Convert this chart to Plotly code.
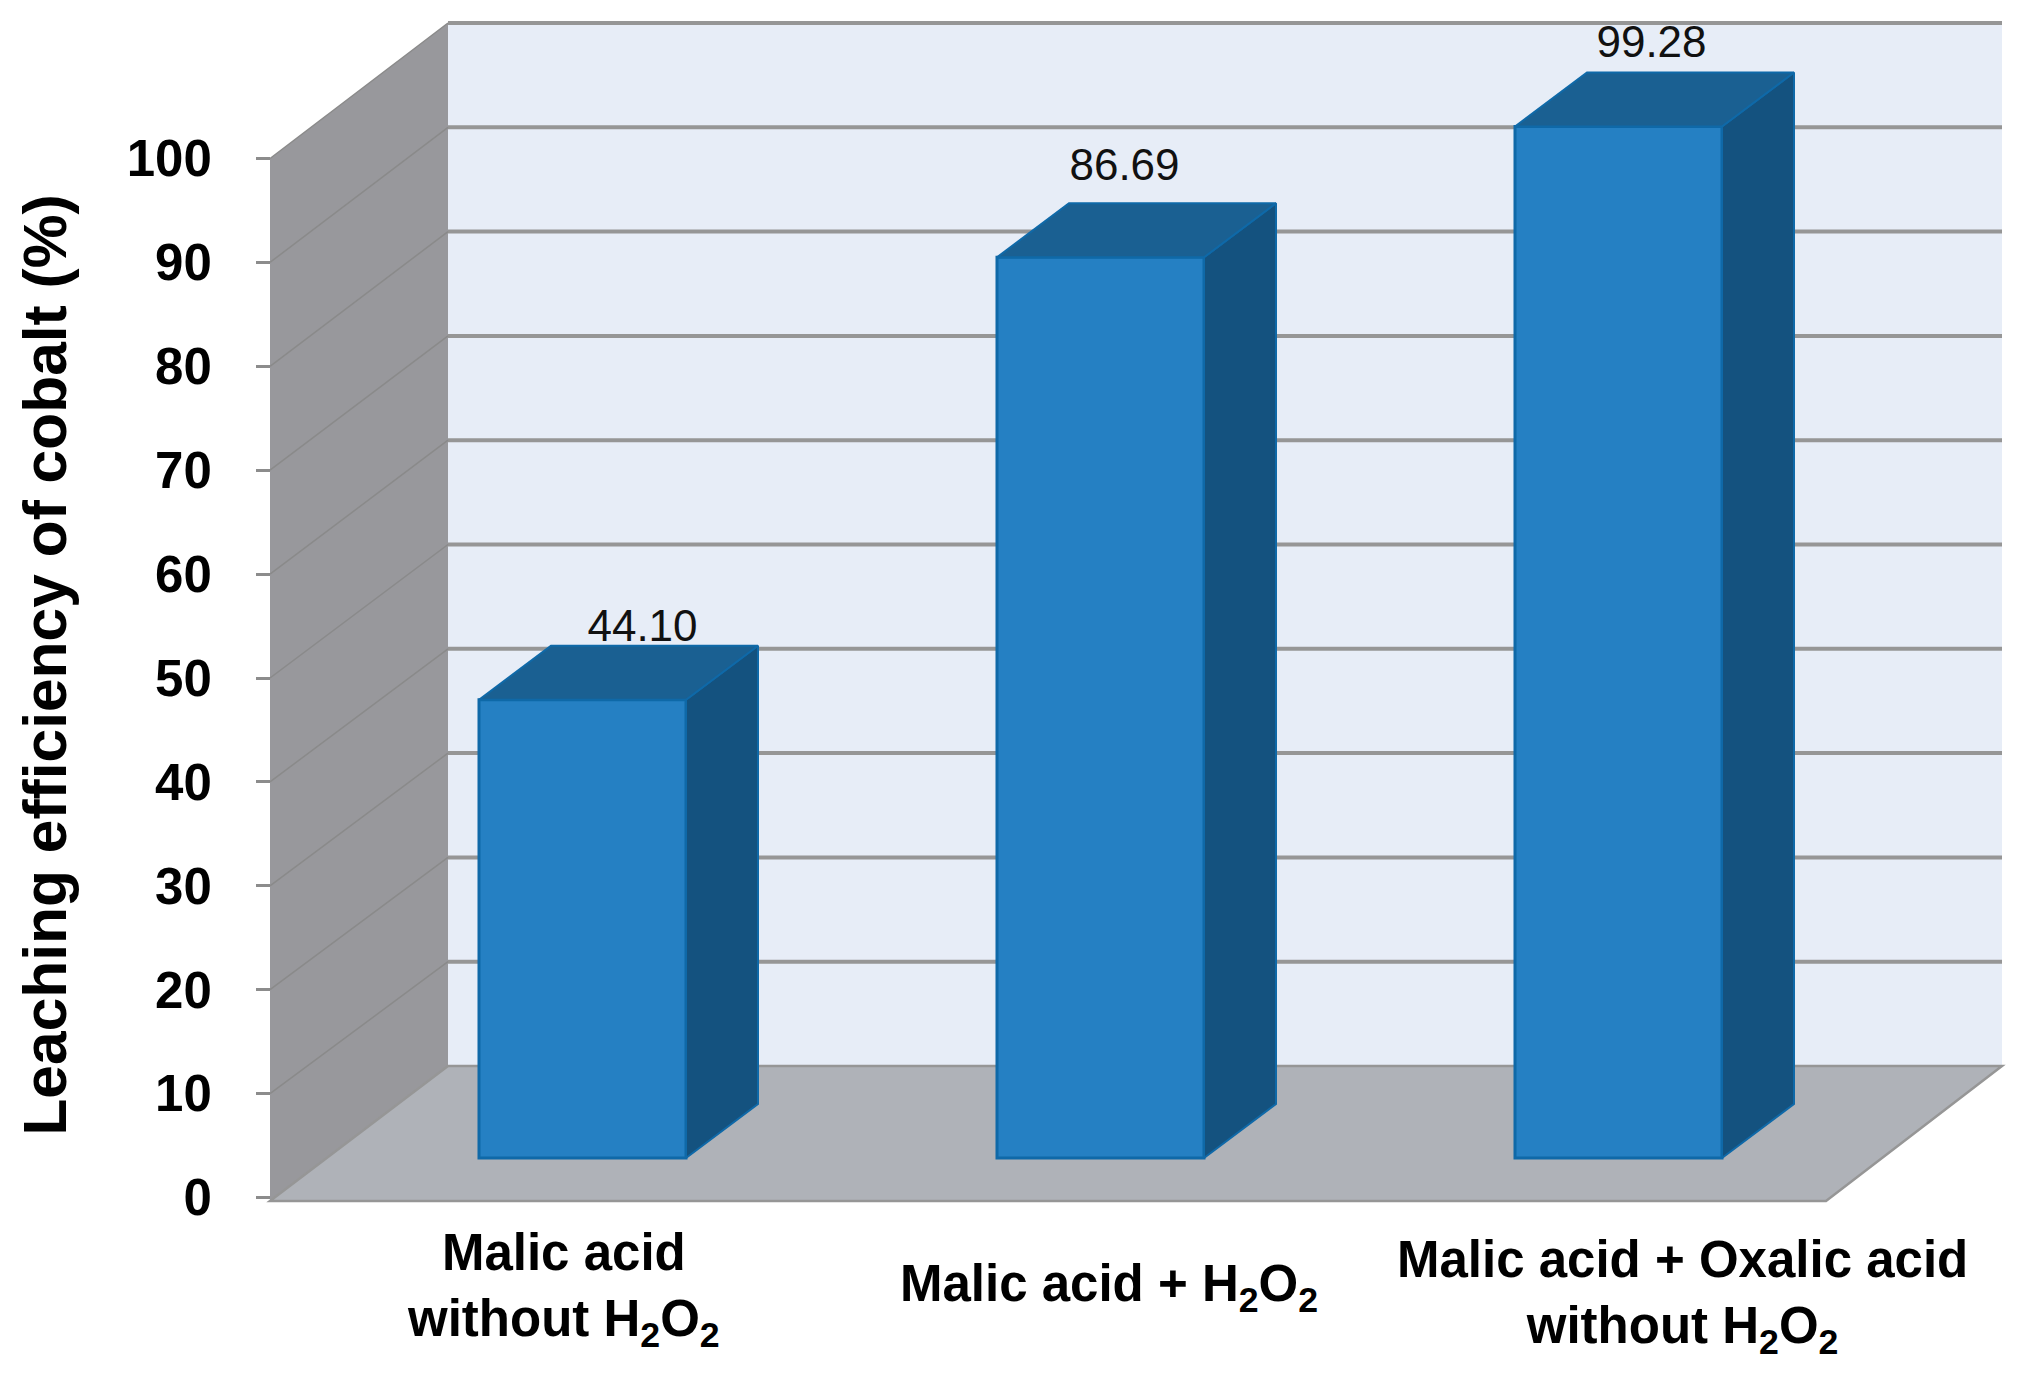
import plotly.graph_objects as go

# --- data ---
categories = ["Malic acid<br>without H<sub>2</sub>O<sub>2</sub>",
              "Malic acid + H<sub>2</sub>O<sub>2</sub>",
              "Malic acid + Oxalic acid<br>without H<sub>2</sub>O<sub>2</sub>"]
leaching_values = [44.10, 86.69, 99.28]
y_ticks = [0, 10, 20, 30, 40, 50, 60, 70, 80, 90, 100]
y_title = "Leaching efficiency of cobalt (%)"

# --- page / pseudo-3D geometry (page px; PAGE_INSET is the browser's body margin) ---
W, H = 2027, 1382
PAGE_INSET = 8
PX_PER_CAT = 518.0     # px per category on x
PX_PER_UNIT = 10.39    # px per % on y, front plane
X0_PX = 582.5          # page px of the first bar centre
Y0_PX = 1197.5         # page px of value 0 on the front plane
AXIS_BOTTOM_PX = 1322.0

def xpx(p):
    return (p - X0_PX) / PX_PER_CAT

def ypx(p):
    return (Y0_PX - p) / PX_PER_UNIT

BAR_WIDTH = 207 / PX_PER_CAT
BAR_BASE = 39.5 / PX_PER_UNIT
BAR_DX = 72 / PX_PER_CAT
BAR_DY = 54 / PX_PER_UNIT
WALL_DX = 178 / PX_PER_CAT
WALL_DY = 131.5 / PX_PER_UNIT
BACK_SCALE = 10.43 / PX_PER_UNIT   # back wall is drawn very slightly taller than the front plane
FRONT_L = xpx(270)
FRONT_R = xpx(1826)
BACK_L = FRONT_L + WALL_DX
BACK_R = xpx(2002)
FLOOR_FRONT = -3.5 / PX_PER_UNIT
BACK_TOP = WALL_DY + 100 * BACK_SCALE

C_FRONT, C_SIDE, C_TOP, C_EDGE = "#2580c3", "#14527f", "#1a6092", "#0f69a8"
C_WALL, C_FLOOR, C_BACK, C_GRID = "#98989c", "#afb2b8", "#e7edf7", "#969696"
FONT = "Liberation Sans, Arial, sans-serif"

# placement of the hand-set labels
value_label_dx = [60, 24, 33]          # px right of bar centre
value_label_gap = [-6, 12, 4]          # px above the bar's top-back edge
category_label_px = [(563, 1289), (1109, 1287), (1682, 1296)]

fig = go.Figure()

# bars: front face
fig.add_trace(go.Bar(
    x=list(range(len(leaching_values))), y=leaching_values, base=BAR_BASE, width=BAR_WIDTH,
    marker=dict(color=C_FRONT, line=dict(color=C_EDGE, width=3)),
    hoverinfo="skip", showlegend=False))

# bars: side and top faces
for i, v in enumerate(leaching_values):
    l, r = i - BAR_WIDTH / 2, i + BAR_WIDTH / 2
    top, bot = BAR_BASE + v, BAR_BASE
    fig.add_trace(go.Scatter(
        x=[r, r + BAR_DX, r + BAR_DX, r, r], y=[top, top + BAR_DY, bot + BAR_DY, bot, top],
        mode="lines", fill="toself", fillcolor=C_SIDE, line=dict(color=C_EDGE, width=2),
        hoverinfo="skip", showlegend=False))
    fig.add_trace(go.Scatter(
        x=[l, l + BAR_DX, r + BAR_DX, r, l], y=[top, top + BAR_DY, top + BAR_DY, top, top],
        mode="lines", fill="toself", fillcolor=C_TOP, line=dict(color=C_EDGE, width=2),
        hoverinfo="skip", showlegend=False))

# value labels
fig.add_trace(go.Scatter(
    x=[i + value_label_dx[i] / PX_PER_CAT for i in range(len(leaching_values))],
    y=[BAR_BASE + v + BAR_DY + value_label_gap[i] / PX_PER_UNIT for i, v in enumerate(leaching_values)],
    mode="text", text=[f"{v:.2f}" for v in leaching_values], textposition="top center",
    textfont=dict(family=FONT, size=44, color="#111111"), cliponaxis=False,
    hoverinfo="skip", showlegend=False))

# walls, floor, grid
shapes = [
    dict(type="path", layer="below", fillcolor=C_BACK, line=dict(width=0),
         path=f"M {BACK_L} {WALL_DY} L {BACK_R} {WALL_DY} L {BACK_R} {BACK_TOP} L {BACK_L} {BACK_TOP} Z"),
    dict(type="path", layer="below", fillcolor=C_WALL, line=dict(width=0),
         path=f"M {FRONT_L} {FLOOR_FRONT} L {BACK_L} {WALL_DY} L {BACK_L} {BACK_TOP} L {FRONT_L} 100 Z"),
    dict(type="path", layer="below", fillcolor=C_FLOOR, line=dict(color=C_GRID, width=2.5),
         path=f"M {FRONT_L} {FLOOR_FRONT} L {BACK_L} {WALL_DY} L {BACK_R} {WALL_DY} L {FRONT_R} {FLOOR_FRONT} Z"),
]
for t in y_ticks[1:]:
    yb = WALL_DY + t * BACK_SCALE
    shapes.append(dict(type="line", layer="below", x0=BACK_L, x1=BACK_R, y0=yb, y1=yb,
                       line=dict(color=C_GRID, width=4)))
    shapes.append(dict(type="line", layer="below", x0=FRONT_L, x1=BACK_L, y0=t, y1=yb,
                       line=dict(color="#8a8a8a", width=1.5)))

annotations = [
    dict(x=xpx(px), y=ypx(py), xref="x", yref="y", text=c, showarrow=False,
         align="center", xanchor="center", yanchor="middle",
         font=dict(family=FONT, size=51, color="#000000", weight=700))
    for c, (px, py) in zip(categories, category_label_px)
]

fig.update_layout(
    width=W, height=H, margin=dict(l=0, r=0, t=0, b=0),
    paper_bgcolor="white", plot_bgcolor="white", showlegend=False,
    shapes=shapes, annotations=annotations,
    xaxis=dict(range=[xpx(PAGE_INSET), xpx(W + PAGE_INSET)], domain=[0, 1], visible=False, fixedrange=True),
    yaxis=dict(
        domain=[(H + PAGE_INSET - AXIS_BOTTOM_PX) / H, 1],
        range=[ypx(AXIS_BOTTOM_PX), ypx(PAGE_INSET)],
        anchor="free", position=(270 - PAGE_INSET) / W, side="left",
        tickmode="array", tickvals=y_ticks, ticktext=[str(t) for t in y_ticks],
        ticks="outside", ticklen=14, tickwidth=3, tickcolor="#8c8c8c", ticklabelstandoff=34,
        showgrid=False, zeroline=False, showline=False,
        tickfont=dict(family=FONT, size=51, color="#000000", weight=700),
        title=dict(text=y_title, standoff=39,
                   font=dict(family=FONT, size=60.5, color="#000000", weight=700)),
    ),
)

fig.write_html("out.html")
